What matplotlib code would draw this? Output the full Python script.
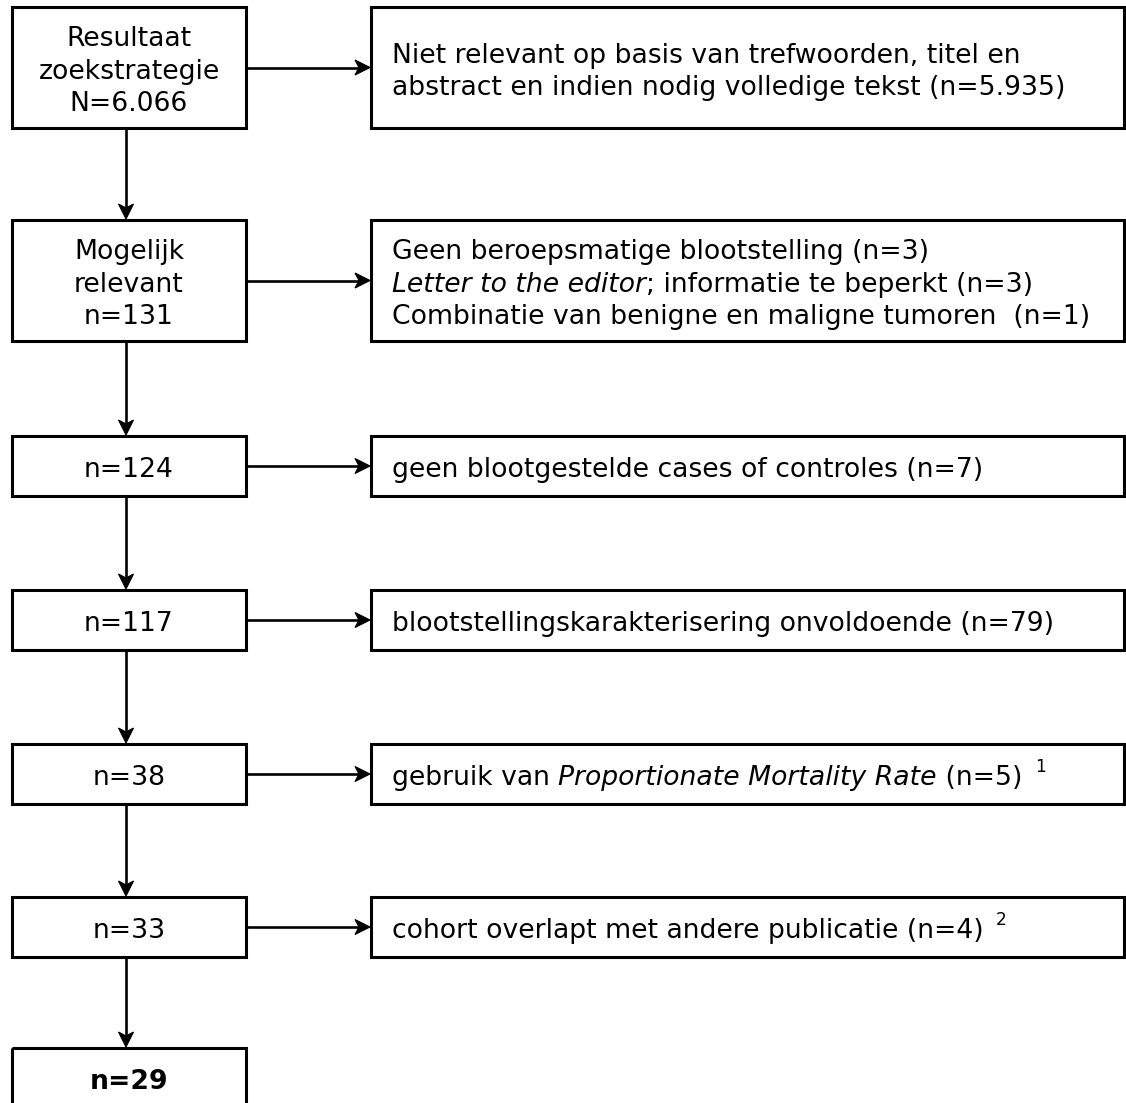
import matplotlib.pyplot as plt
from matplotlib.patches import Rectangle, Polygon

plt.rcParams['font.family'] = ['DejaVu Sans']

# left column: counts remaining after each step
left_labels = [
    ['Resultaat', 'zoekstrategie', 'N=6.066'],
    ['Mogelijk', 'relevant', 'n=131'],
    ['n=124'],
    ['n=117'],
    ['n=38'],
    ['n=33'],
    ['n=29'],
]

# right column: exclusion reasons, each line is a list of (text, style) runs
right_labels = [
    [[('Niet relevant op basis van trefwoorden, titel en', 'n')],
     [('abstract en indien nodig volledige tekst (n=5.935)', 'n')]],
    [[('Geen beroepsmatige blootstelling (n=3)', 'n')],
     [('Letter to the editor', 'i'), ('; informatie te beperkt (n=3)', 'n')],
     [('Combinatie van benigne en maligne tumoren  (n=1)', 'n')]],
    [[('geen blootgestelde cases of controles (n=7)', 'n')]],
    [[('blootstellingskarakterisering onvoldoende (n=79)', 'n')]],
    [[('gebruik van ', 'n'), ('Proportionate Mortality Rate', 'i'), (' (n=5) ', 'n'), ('1', 's')]],
    [[('cohort overlapt met andere publicatie (n=4) ', 'n'), ('2', 's')]],
]

# layout in pixels
box_tops = [7, 220, 436, 590, 744, 897, 1048]
box_heights = [121, 121, 60, 60, 60, 60, 60]
left_x0, left_x1 = 12, 246
right_x0, right_x1 = 371, 1124
text_pad = 21
fs = 19.2
line_gap = 32.5
lw_box = 2.2
lw_arrow = 1.9

fig = plt.figure(figsize=(11.26, 11.03), dpi=100)
ax = fig.add_axes([0, 0, 1, 1])
ax.set_xlim(0, 1126)
ax.set_ylim(1103, 0)
ax.axis('off')
renderer = fig.canvas.get_renderer()

em = fs * 100 / 72


def run_width(s, size=fs, style='normal'):
    # measure including trailing spaces
    t1 = ax.text(0, 0, s + 'x', fontsize=size, fontstyle=style)
    t2 = ax.text(0, 0, 'x', fontsize=size, fontstyle=style)
    w = t1.get_window_extent(renderer).width - t2.get_window_extent(renderer).width
    t1.remove()
    t2.remove()
    return w


def draw_runs(x, y, runs):
    for txt, style in runs:
        if style == 's':
            ax.text(x + 4, y - 13, txt, fontsize=fs * 0.64, va='baseline', ha='left')
            x += run_width(txt, size=fs * 0.64)
        else:
            st = 'italic' if style == 'i' else 'normal'
            ax.text(x, y, txt, fontsize=fs, fontstyle=st, va='baseline', ha='left')
            x += run_width(txt, style=st)


def arrow(p0, p1, head_len=15, notch=11, half_w=7.5):
    dx, dy = p1[0] - p0[0], p1[1] - p0[1]
    d = (dx ** 2 + dy ** 2) ** 0.5
    ux, uy = dx / d, dy / d
    px, py = -uy, ux
    bx, by = p1[0] - ux * head_len, p1[1] - uy * head_len
    nx, ny = p1[0] - ux * notch, p1[1] - uy * notch
    ax.plot([p0[0], nx], [p0[1], ny], color='black', lw=lw_arrow, solid_capstyle='butt')
    ax.add_patch(Polygon([p1, (bx + px * half_w, by + py * half_w), (nx, ny),
                          (bx - px * half_w, by - py * half_w)],
                         closed=True, facecolor='black', edgecolor='black', lw=0.8))


cx = (left_x0 + left_x1) / 2
for i, (lines, top, h) in enumerate(zip(left_labels, box_tops, box_heights)):
    ax.add_patch(Rectangle((left_x0, top), left_x1 - left_x0, h, fill=False,
                           lw=lw_box, edgecolor='black'))
    cy = top + h / 2
    n = len(lines)
    for j, line in enumerate(lines):
        yb = cy + (j - (n - 1) / 2) * line_gap + 0.43 * em
        ax.text(cx, yb, line, fontsize=fs, ha='center', va='baseline',
                fontweight='bold' if i == len(left_labels) - 1 else 'normal')
    if i < len(right_labels):
        ax.add_patch(Rectangle((right_x0, top), right_x1 - right_x0, h, fill=False,
                               lw=lw_box, edgecolor='black'))
        rl = right_labels[i]
        m = len(rl)
        for j, runs in enumerate(rl):
            yb = cy + (j - (m - 1) / 2) * line_gap + 0.43 * em
            draw_runs(right_x0 + text_pad, yb, runs)
        arrow((left_x1, cy), (right_x0 - 1, cy))
    if i < len(left_labels) - 1:
        arrow((cx - 3, top + h), (cx - 3, box_tops[i + 1] - 1))

fig.savefig('out.png', dpi=100)
